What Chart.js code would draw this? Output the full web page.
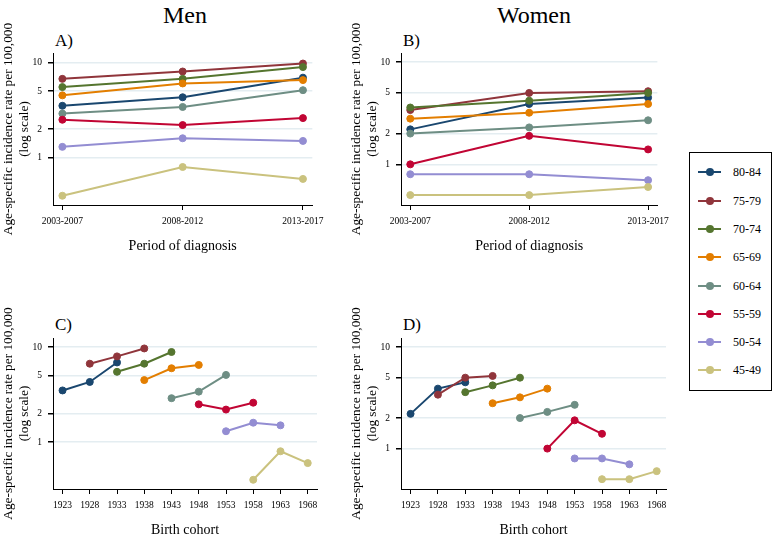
<!DOCTYPE html>
<html lang="en">
<head>
  <meta charset="UTF-8">
  <title>Age-specific incidence rate by period and cohort</title>
  <style>
    body { margin: 0; background: #fff; font-family: 'Liberation Serif', serif; color: #000; }
    #page { position: relative; width: 777px; height: 540px; overflow: hidden; }
    canvas { position: absolute; }
    .head { position: absolute; width: 200px; font-size: 24px; line-height: 24px; text-align: center; }
    .tag { position: absolute; font-size: 17px; line-height: 17px; }

    /* legend box on the right */
    #legend { position: absolute; left: 689px; top: 152px; width: 81px; height: 237px; border: 1px solid #000; }
    .item { position: absolute; left: 0; width: 80px; height: 20px; }
    .item .ln { position: absolute; left: 8px; top: 9px; width: 23px; height: 2px; }
    .item .dot { position: absolute; left: 15.5px; top: 6px; width: 8px; height: 8px; border-radius: 50%; }
    .item .tx { position: absolute; left: 43px; top: 2px; font-size: 12px; line-height: 16px; }
  </style>
  <script src="https://cdn.jsdelivr.net/npm/chart.js"></script>
</head>
<body>
  <div id="page">
    <div class="head" style="left:85px; top:3px;">Men</div>
    <div class="head" style="left:434px; top:3px;">Women</div>
    <div class="tag" style="left:55px; top:32px;">A)</div>
    <div class="tag" style="left:403px; top:32px;">B)</div>
    <div class="tag" style="left:55px; top:316px;">C)</div>
    <div class="tag" style="left:403px; top:316px;">D)</div>

    <canvas id="chart-a" width="330" height="250" style="left:0; top:20px;"></canvas>
    <canvas id="chart-b" width="335" height="250" style="left:340px; top:20px;"></canvas>
    <canvas id="chart-c" width="330" height="240" style="left:0; top:300px;"></canvas>
    <canvas id="chart-d" width="335" height="240" style="left:340px; top:300px;"></canvas>

    <div id="legend"></div>
  </div>

  <script>
    // age groups, top to bottom as in the legend
    const ageGroups = ['80-84', '75-79', '70-74', '65-69', '60-64', '55-59', '50-54', '45-49'];
    const groupColors = ['#1a476f', '#90353b', '#55752f', '#e37e00', '#6e8e84', '#c10534', '#938dd2', '#cac27e'];

    const periodLabels = ['2003-2007', '2008-2012', '2013-2017'];
    const cohortYears = [1923, 1928, 1933, 1938, 1943, 1948, 1953, 1958, 1963, 1968];
    const yTicks = [1, 2, 5, 10];
    const yTitle = ['Age-specific incidence rate per 100,000', '(log scale)'];

    // rates per 100,000 for each period, one row per age group
    const menRates = [
      [3.5, 4.3, 6.9],   // 80-84
      [6.7, 8.0, 9.7],   // 75-79
      [5.5, 6.7, 8.9],   // 70-74
      [4.5, 6.0, 6.5],   // 65-69
      [2.9, 3.4, 5.1],   // 60-64
      [2.5, 2.2, 2.6],   // 55-59
      [1.3, 1.6, 1.5],   // 50-54
      [0.40, 0.80, 0.60] // 45-49
    ];
    const womenRates = [
      [2.2, 3.9, 4.5],
      [3.4, 5.0, 5.2],
      [3.6, 4.2, 5.0],
      [2.8, 3.2, 3.9],
      [2.0, 2.3, 2.7],
      [1.0, 1.9, 1.4],
      [0.80, 0.80, 0.70],
      [0.50, 0.50, 0.60]
    ];

    const SERIF = "'Liberation Serif', serif";

    // y title drawn by hand so the long text is not squeezed into the axis height
    const yTitlePlugin = {
      id: 'yTitle',
      afterDraw(chart) {
        const { ctx, chartArea } = chart;
        const cy = (chartArea.top + chartArea.bottom) / 2;
        ctx.save();
        ctx.fillStyle = '#000';
        ctx.font = '13.3px ' + SERIF;
        ctx.textAlign = 'center';
        ctx.textBaseline = 'middle';
        yTitle.forEach((line, k) => {
          ctx.save();
          ctx.translate(chartArea.left - 44 + k * 15.5, cy);
          ctx.rotate(-Math.PI / 2);
          ctx.fillText(line, 0, 0);
          ctx.restore();
        });
        ctx.restore();
      }
    };

    function buildDatasets(rates, byCohort) {
      return rates.map((row, i) => ({
        label: ageGroups[i],
        data: row.map((v, j) => ({ x: byCohort ? cohortYears[i + j] : j, y: v })),
        borderColor: groupColors[i],
        backgroundColor: groupColors[i],
        borderWidth: 2,
        pointRadius: 3.5,
        pointBorderWidth: 1,
        order: -i
      }));
    }

    function makeChart(id, rates, byCohort, yMin, yMax, yWidth, pad, xHeight, xTitle, xTitlePad) {
      const xTicks = byCohort ? cohortYears : periodLabels.map((l, i) => i);
      new Chart(document.getElementById(id), {
        type: 'line',
        data: { datasets: buildDatasets(rates, byCohort) },
        options: {
          responsive: false,
          animation: false,
          devicePixelRatio: 1,
          layout: { padding: pad },
          plugins: { legend: { display: false }, tooltip: { enabled: false } },
          scales: {
            x: {
              type: 'linear',
              min: byCohort ? 1921.25 : -0.078,
              max: byCohort ? 1969.7 : 2.078,
              afterBuildTicks: s => { s.ticks = xTicks.map(v => ({ value: v })); },
              afterFit: s => { s.height = xHeight; },
              ticks: {
                autoSkip: false, maxRotation: 0, padding: 6, color: '#000',
                font: { family: SERIF, size: 9.5 },
                callback: v => byCohort ? String(v) : periodLabels[v]
              },
              grid: { drawOnChartArea: false, color: '#000', tickColor: '#000', tickLength: 5 },
              border: { display: true, color: '#000', width: 1 },
              title: {
                display: true, text: xTitle, color: '#000',
                font: { family: SERIF, size: 14 },
                padding: { top: 0, bottom: xTitlePad }
              }
            },
            y: {
              type: 'logarithmic',
              min: yMin,
              max: yMax,
              bounds: 'data',
              afterBuildTicks: s => { s.ticks = yTicks.map(v => ({ value: v })); },
              afterFit: s => { s.width = yWidth; },
              ticks: {
                padding: 6, color: '#000',
                font: { family: SERIF, size: 9.5 },
                callback: v => String(v)
              },
              grid: { color: '#e4edf1', lineWidth: 1.5, tickColor: '#000', tickLength: 5 },
              border: { display: true, color: '#000', width: 1 }
            }
          }
        },
        plugins: [yTitlePlugin]
      });
    }

    makeChart('chart-a', menRates, false, 0.32, 12.5, 53, { top: 33, right: 13 }, 65, 'Period of diagnosis', 15.6);
    makeChart('chart-b', womenRates, false, 0.40, 12.3, 61, { top: 33, right: 9 }, 65, 'Period of diagnosis', 15.6);
    makeChart('chart-c', menRates, true, 0.32, 12.5, 53, { top: 38, right: 13 }, 51, 'Birth cohort', 1.6);
    makeChart('chart-d', womenRates, true, 0.40, 12.3, 61, { top: 38, right: 9 }, 51, 'Birth cohort', 1.6);

    // legend
    const legend = document.getElementById('legend');
    ageGroups.forEach((g, i) => {
      const item = document.createElement('div');
      item.className = 'item';
      item.style.top = (9.3 + 28.3 * i) + 'px';
      item.innerHTML = `
        <span class="ln" style="background:${groupColors[i]}"></span>
        <span class="dot" style="background:${groupColors[i]}"></span>
        <span class="tx">${g}</span>`;
      legend.appendChild(item);
    });
  </script>
</body>
</html>
